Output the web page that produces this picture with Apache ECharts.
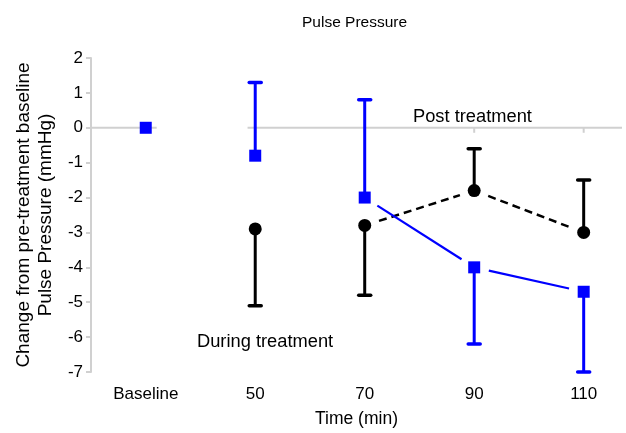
<!DOCTYPE html>
<html>
<head>
<meta charset="utf-8">
<script src="https://cdn.jsdelivr.net/npm/echarts@6/dist/echarts.min.js"></script>
<style>
html,body{margin:0;padding:0;background:#fff;}
#chart{width:626px;height:433px;}
</style>
</head>
<body>
<div id="chart"></div>
<script>
// ---- data ----
const categories = ['Baseline', '50', '70', '90', '110'];
const blueMean = [0, -0.8, -2.0, -4.0, -4.7];
const blueErrEnd = [null, 1.3, 0.8, -6.2, -7.0];
const blackMean = [null, -2.9, -2.8, -1.8, -3.0];
const blackErrEnd = [null, -5.1, -4.8, -0.6, -1.5];
const connectFromIndex = 2;            // lines drawn from 70 min onwards
const yMin = -7, yMax = 2, yStep = 1;
const zeroSegments = [[-0.5, 0.1], [0.93, 4.35]];
const titleText = 'Pulse Pressure';
const xName = 'Time (min)';
const yName = 'Change from pre-treatment baseline\nPulse Pressure (mmHg)';
const noteAfter = 'Post treatment';
const noteDuring = 'During treatment';

const FONT = '"Liberation Sans", Arial, Helvetica, sans-serif';
const GRAY = '#d0d0d0';
const BLUE = '#0000ff';
const BLACK = '#000000';

function pts(mean) {
  const out = [];
  mean.forEach((v, i) => { if (v !== null) out.push([i, v]); });
  return out;
}
function errData(mean, end) {
  const out = [];
  mean.forEach((v, i) => { if (v !== null && end[i] !== null) out.push([i, v, end[i]]); });
  return out;
}
function segData(mean) {
  const out = [];
  for (let i = connectFromIndex; i < mean.length - 1; i++) {
    if (mean[i] !== null && mean[i + 1] !== null) out.push([i, mean[i], i + 1, mean[i + 1]]);
  }
  return out;
}
function errRender(color) {
  return function (params, api) {
    const p0 = api.coord([api.value(0), api.value(1)]);
    const p1 = api.coord([api.value(0), api.value(2)]);
    return {
      type: 'group',
      children: [
        { type: 'line', shape: { x1: p0[0], y1: p0[1], x2: p1[0], y2: p1[1] },
          style: { stroke: color, lineWidth: 3 } },
        { type: 'line', shape: { x1: p1[0] - 6, y1: p1[1], x2: p1[0] + 6, y2: p1[1] },
          style: { stroke: color, lineWidth: 3.5, lineCap: 'round' } }
      ]
    };
  };
}
function segRender(color, dash, width) {
  return function (params, api) {
    const a = api.coord([api.value(0), api.value(1)]);
    const b = api.coord([api.value(2), api.value(3)]);
    const dx = b[0] - a[0], dy = b[1] - a[1];
    const len = Math.sqrt(dx * dx + dy * dy);
    const gap = 15;
    const ux = dx / len, uy = dy / len;
    return {
      type: 'line',
      shape: { x1: a[0] + ux * gap, y1: a[1] + uy * gap, x2: b[0] - ux * gap, y2: b[1] - uy * gap },
      style: { stroke: color, lineWidth: width, lineDash: dash }
    };
  };
}

const chart = echarts.init(document.getElementById('chart'), null, { renderer: 'canvas' });
const option = {
  animation: false,
  textStyle: { fontFamily: FONT },
  title: {
    text: titleText, left: 297, top: 10,
    textStyle: { fontFamily: FONT, fontSize: 15.5, fontWeight: 'normal', color: '#000' }
  },
  grid: { left: 91, right: 4, top: 58, bottom: 59 },
  xAxis: {
    type: 'value', min: -0.5, max: 4.35,
    axisLine: { show: false, onZero: false }, axisTick: { show: false }, splitLine: { show: false },
    axisLabel: {
      customValues: [0, 1, 2, 3, 4],
      formatter: v => categories[Math.round(v)],
      margin: 14, fontSize: 17, color: '#000', fontFamily: FONT
    },
    name: xName, nameLocation: 'middle', nameGap: 38,
    nameTextStyle: { fontSize: 17.5, color: '#000', fontFamily: FONT }
  },
  yAxis: {
    type: 'value', min: yMin, max: yMax, interval: yStep,
    axisLine: { show: true, onZero: false, lineStyle: { color: GRAY, width: 2 } },
    axisTick: { show: true, length: 5, lineStyle: { color: GRAY, width: 2 } },
    splitLine: { show: false },
    axisLabel: { margin: 8, fontSize: 17, color: '#000', fontFamily: FONT },
    name: yName, nameLocation: 'middle', nameRotate: 90, nameGap: 33,
    nameTextStyle: { fontSize: 19, lineHeight: 22, color: '#000', fontFamily: FONT, align: 'center' }
  },
  graphic: [
    { type: 'text', left: 413, top: 108, style: { text: noteAfter, font: '18.3px ' + FONT, fill: '#000' } },
    { type: 'text', left: 197, top: 333, style: { text: noteDuring, font: '18.3px ' + FONT, fill: '#000' } }
  ],
  series: [
    {
      type: 'custom', name: 'zero', z: 1, silent: true,
      data: zeroSegments,
      renderItem: function (params, api) {
        const a = api.coord([api.value(0), 0]);
        const b = api.coord([api.value(1), 0]);
        return { type: 'line', shape: { x1: a[0], y1: a[1], x2: b[0], y2: b[1] },
                 style: { stroke: GRAY, lineWidth: 2 } };
      }
    },
    {
      type: 'custom', name: 'zeroTicks', z: 1, silent: true,
      data: categories.map((c, i) => [i, 0]),
      renderItem: function (params, api) {
        const a = api.coord([api.value(0), 0]);
        return { type: 'line', shape: { x1: a[0], y1: a[1], x2: a[0], y2: a[1] + 5 },
                 style: { stroke: GRAY, lineWidth: 2 } };
      }
    },
    {
      type: 'custom', name: 'blackLine', z: 3, silent: true,
      data: segData(blackMean),
      renderItem: segRender(BLACK, [8, 5], 2.5)
    },
    {
      type: 'custom', name: 'blueLine', z: 4, silent: true,
      data: segData(blueMean),
      renderItem: segRender(BLUE, null, 2.2)
    },
    {
      type: 'custom', name: 'blackErr', z: 5, silent: true,
      data: errData(blackMean, blackErrEnd),
      renderItem: errRender(BLACK)
    },
    {
      type: 'custom', name: 'blueErr', z: 5, silent: true,
      data: errData(blueMean, blueErrEnd),
      renderItem: errRender(BLUE)
    },
    {
      type: 'scatter', name: 'black', z: 6,
      data: pts(blackMean), symbol: 'circle', symbolSize: 13,
      itemStyle: { color: BLACK, opacity: 1 }
    },
    {
      type: 'scatter', name: 'blue', z: 6,
      data: pts(blueMean), symbol: 'rect', symbolSize: 12,
      itemStyle: { color: BLUE, opacity: 1 }
    }
  ]
};
chart.setOption(option);
</script>
</body>
</html>
